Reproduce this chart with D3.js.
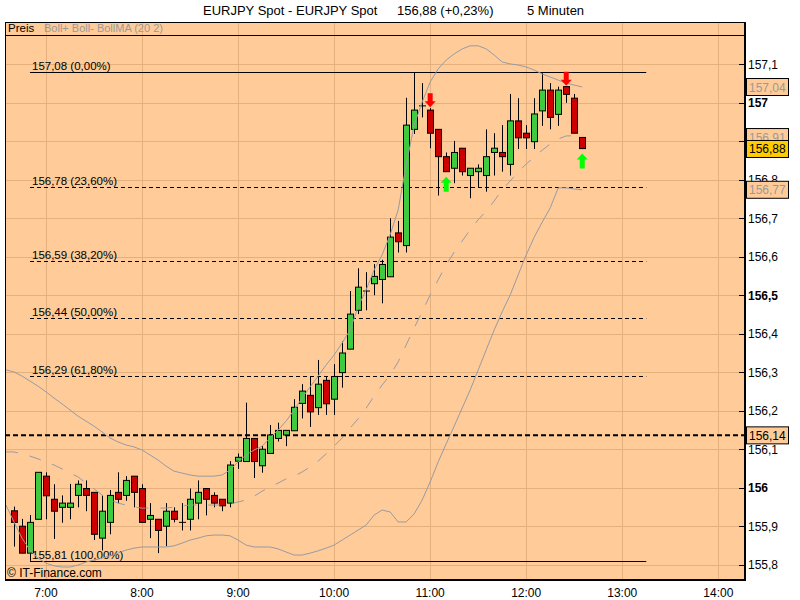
<!DOCTYPE html>
<html><head><meta charset="utf-8">
<script src="https://cdn.jsdelivr.net/npm/d3@7/dist/d3.min.js"></script>
<style>
body{margin:0;background:#fff;}
svg{display:block;font-family:"Liberation Sans",Arial,sans-serif;}
</style>
</head><body>
<svg id="chart" width="800" height="600"></svg>
<script>
// ---------------- DATA ----------------
const times = ["06:40","06:45","06:50","06:55","07:00","07:05","07:10","07:15","07:20","07:25","07:30","07:35",
"07:40","07:45","07:50","07:55","08:00","08:05","08:10","08:15","08:20","08:25","08:30","08:35",
"08:40","08:45","08:50","08:55","09:00","09:05","09:10","09:15","09:20","09:25","09:30","09:35",
"09:40","09:45","09:50","09:55","10:00","10:05","10:10","10:15","10:20","10:25","10:30","10:35",
"10:40","10:45","10:50","10:55","11:00","11:05","11:10","11:15","11:20","11:25","11:30","11:35",
"11:40","11:45","11:50","11:55","12:00","12:05","12:10","12:15","12:20","12:25","12:30","12:35"];
const open = [155.940,155.900,155.830,155.918,156.030,155.970,155.949,155.949,155.980,155.998,155.988,155.869,
155.910,155.988,155.980,156.030,155.998,155.918,155.918,155.900,155.939,155.910,155.918,155.960,
155.998,155.980,155.970,155.960,156.069,156.068,156.128,156.057,156.089,156.128,156.137,156.148,
156.219,156.240,156.208,156.279,156.230,156.299,156.360,156.461,156.511,156.530,156.541,156.548,
156.662,156.629,156.931,156.992,156.981,156.931,156.860,156.830,156.882,156.811,156.821,156.811,
156.871,156.871,156.840,156.953,156.921,156.899,156.979,157.033,156.970,157.042,157.012,156.910];
const high = [155.951,155.919,155.929,156.040,156.040,156.009,155.980,156.010,156.019,156.019,155.988,155.980,
155.994,156.040,156.030,156.030,156.009,155.960,155.918,155.960,155.949,155.960,155.998,156.019,
155.998,155.988,155.970,156.069,156.089,156.221,156.128,156.108,156.163,156.169,156.149,156.230,
156.269,156.290,156.332,156.290,156.321,156.380,156.511,156.570,156.560,156.581,156.592,156.700,
156.693,157.013,157.080,157.051,156.986,156.931,156.871,156.901,156.882,156.830,156.840,156.931,
156.921,156.942,157.023,157.012,156.942,157.012,157.080,157.051,157.042,157.042,157.023,156.910];
const low = [155.847,155.830,155.810,155.918,155.918,155.867,155.909,155.918,155.949,155.939,155.864,155.837,
155.879,155.960,155.966,155.949,155.910,155.869,155.830,155.848,155.910,155.889,155.889,155.918,
155.928,155.949,155.939,155.949,156.049,156.068,156.025,156.039,156.089,156.120,156.108,156.148,
156.180,156.158,156.189,156.189,156.189,156.260,156.360,156.451,156.461,156.500,156.479,156.548,
156.611,156.611,156.919,156.962,156.882,156.759,156.821,156.791,156.811,156.752,156.780,156.769,
156.811,156.821,156.811,156.880,156.880,156.880,156.940,156.931,156.940,157.000,156.921,156.881];
const close = [155.910,155.830,155.910,156.040,155.979,155.939,155.960,155.960,156.009,155.980,155.879,155.939,
155.980,155.970,156.019,155.988,155.910,155.928,155.889,155.939,155.918,155.910,155.970,155.988,
155.970,155.960,155.953,156.059,156.079,156.128,156.068,156.100,156.137,156.149,156.149,156.209,
156.251,156.197,156.269,156.218,156.289,156.350,156.451,156.521,156.511,156.549,156.580,156.651,
156.639,156.942,156.981,156.992,156.921,156.860,156.821,156.871,156.821,156.830,156.830,156.860,
156.882,156.860,156.953,156.909,156.909,156.971,157.033,156.962,157.033,157.022,156.921,156.881];

// Bollinger bands (20, 2) – one extra leading point at 06:35
const bandTimes = ["06:35"].concat(times);
const bollUpper = [156.306,156.301,156.290,156.277,156.264,156.249,156.233,156.218,156.202,156.186,
156.173,156.160,156.145,156.129,156.119,156.111,156.106,156.098,156.085,156.072,
156.056,156.043,156.038,156.033,156.030,156.030,156.030,156.033,156.046,156.067,
156.085,156.098,156.108,156.129,156.150,156.173,156.202,156.233,156.262,156.290,
156.319,156.345,156.376,156.410,156.470,156.514,156.566,156.605,156.657,156.722,
156.838,156.942,157.002,157.054,157.088,157.111,157.127,157.140,157.148,157.148,
157.140,157.124,157.106,157.101,157.098,157.093,157.085,157.075,157.067,157.059,
157.051,157.046,157.041];
const bollMid = [156.093,156.093,156.088,156.082,156.075,156.067,156.059,156.049,156.038,156.028,
156.012,155.997,155.981,155.968,155.960,155.955,155.950,155.947,155.947,155.947,
155.947,155.950,155.953,155.955,155.955,155.955,155.955,155.955,155.958,155.963,
155.968,155.978,155.991,156.002,156.012,156.023,156.030,156.041,156.054,156.069,
156.088,156.108,156.129,156.155,156.179,156.207,156.238,156.267,156.293,156.327,
156.371,156.415,156.457,156.501,156.540,156.579,156.612,156.641,156.670,156.696,
156.719,156.745,156.774,156.797,156.820,156.841,156.859,156.877,156.893,156.906,
156.914,156.914,156.911];
const bollLower = [155.955,155.911,155.869,155.838,155.817,155.804,155.797,155.794,155.794,155.799,
155.807,155.812,155.817,155.823,155.830,155.838,155.843,155.846,155.846,155.846,
155.846,155.849,155.856,155.864,155.869,155.875,155.877,155.877,155.875,155.864,
155.851,155.846,155.846,155.846,155.841,155.833,155.825,155.825,155.830,155.836,
155.843,155.851,155.864,155.877,155.890,155.903,155.929,155.942,155.937,155.911,
155.911,155.932,155.968,156.015,156.067,156.114,156.160,156.207,156.254,156.306,
156.358,156.410,156.457,156.501,156.553,156.605,156.651,156.690,156.727,156.779,
156.779,156.776,156.774];

// Fibonacci retracement
const fibLevels = [157.08, 156.78, 156.59, 156.44, 156.29, 155.81];
const fibPercents = ["0,00%", "23,60%", "38,20%", "50,00%", "61,80%", "100,00%"];
const fibStart = "06:50", fibEnd = "13:15";

// signals
const sellSignals = ["11:00", "12:25"];
const buySignals = ["11:10", "12:35"];

const lastPrice = 156.88;
const markLevel = 156.136;
const yTicks = [155.8,155.9,156.0,156.1,156.2,156.3,156.4,156.5,156.6,156.7,156.8,156.9,157.0,157.1];
const xTicks = ["07:00","08:00","09:00","10:00","11:00","12:00","13:00","14:00"];
const xTickLabels = ["7:00","8:00","9:00","10:00","11:00","12:00","13:00","14:00"];

// ---------------- CHART ----------------
const svg = d3.select("#chart");
const L = 5, R = 745, T = 22, B = 580, LEG = 35;
const toMin = s => { const p = s.split(":").map(Number); return p[0]*60 + p[1]; };
const x = d3.scaleLinear().domain([420, 840]).range([46, 718.3]);
const y = d3.scaleLinear().domain([155.8, 157.1]).range([564.7, 64.3]);
const loc = d3.formatLocale({decimal: ",", thousands: ".", grouping: [3], currency: ["", ""]});
const f2 = loc.format(".2f"), f1 = loc.format(".1~f");
const PEACH = "#FFCC99", GRID = "#E3B07E", BAND = "#979ba3";

svg.append("defs").append("clipPath").attr("id", "clip")
  .append("rect").attr("x", L).attr("y", LEG).attr("width", R - L).attr("height", B - LEG);

// title
const title = svg.append("g").attr("font-size", 13).attr("fill", "#000");
title.append("text").attr("x", 203).attr("y", 15).text("EURJPY Spot - EURJPY Spot");
title.append("text").attr("x", 397).attr("y", 15).text(f2(lastPrice) + " (+0,23%)");
title.append("text").attr("x", 527).attr("y", 15).text("5 Minuten");

// plot background
svg.append("rect").attr("x", L).attr("y", T).attr("width", R - L).attr("height", B - T).attr("fill", PEACH);

// grid
const grid = svg.append("g").attr("stroke", GRID).attr("stroke-width", 1);
grid.selectAll("line.v").data(xTicks).join("line")
  .attr("x1", d => Math.round(x(toMin(d))) + 0.5).attr("x2", d => Math.round(x(toMin(d))) + 0.5)
  .attr("y1", T).attr("y2", B);
grid.selectAll("line.h").data(yTicks).join("line")
  .attr("x1", L).attr("x2", R)
  .attr("y1", d => Math.round(y(d)) + 0.5).attr("y2", d => Math.round(y(d)) + 0.5);

const plot = svg.append("g").attr("clip-path", "url(#clip)");

// fib lines
const fx1 = x(toMin(fibStart)), fx2 = x(toMin(fibEnd));
fibLevels.forEach((v, i) => {
  const yy = Math.round(y(v)) + 0.5;
  const solid = (i === 0 || i === fibLevels.length - 1);
  plot.append("line").attr("x1", fx1).attr("x2", fx2).attr("y1", yy).attr("y2", yy)
    .attr("stroke", "#000").attr("stroke-width", 1)
    .attr("stroke-dasharray", solid ? null : "4,3");
  plot.append("text").attr("x", fx1 + 2).attr("y", yy - 3).attr("font-size", 11.5)
    .text(f2(v) + " (" + fibPercents[i] + ")");
});

// thick dashed horizontal level
plot.append("line").attr("x1", L).attr("x2", R)
  .attr("y1", y(markLevel)).attr("y2", y(markLevel))
  .attr("stroke", "#000").attr("stroke-width", 2).attr("stroke-dasharray", "5,3");

// candles
const cw = 6;
const cg = plot.append("g");
times.forEach((t, i) => {
  const cx = Math.round(x(toMin(t))) + 0.5;
  cg.append("line").attr("x1", cx).attr("x2", cx)
    .attr("y1", y(high[i])).attr("y2", y(low[i]))
    .attr("stroke", "#000").attr("stroke-width", 1);
  const up = close[i] >= open[i];
  const top = y(Math.max(open[i], close[i])), bot = y(Math.min(open[i], close[i]));
  cg.append("rect").attr("x", cx - cw / 2).attr("y", top)
    .attr("width", cw).attr("height", Math.max(0.01, bot - top))
    .attr("fill", up ? "#3FCB3F" : "#CC0000").attr("stroke", "#000").attr("stroke-width", 1);
});

// bollinger bands
const line = arr => d3.line().x((d, i) => x(toMin(bandTimes[i]))).y(d => y(d))(arr);
plot.append("path").attr("d", line(bollUpper)).attr("fill", "none").attr("stroke", BAND).attr("stroke-width", 1);
plot.append("path").attr("d", line(bollLower)).attr("fill", "none").attr("stroke", BAND).attr("stroke-width", 1);
plot.append("path").attr("d", line(bollMid)).attr("fill", "none").attr("stroke", BAND).attr("stroke-width", 1)
  .attr("stroke-dasharray", "12,12");

// signal arrows
const idx = t => times.indexOf(t);
sellSignals.forEach(t => {
  const i = idx(t), cx = x(toMin(t)), tip = y(high[i]) - 1;
  plot.append("path").attr("transform", `translate(${cx},${tip})`)
    .attr("d", "M0,0 L-5.5,-6 L-2.5,-6 L-2.5,-14 L2.5,-14 L2.5,-6 L5.5,-6 Z").attr("fill", "#FF0000");
});
buySignals.forEach(t => {
  const i = idx(t), cx = x(toMin(t)), tip = y(low[i]) + 5;
  plot.append("path").attr("transform", `translate(${cx},${tip})`)
    .attr("d", "M0,0 L-5.5,6 L-2.5,6 L-2.5,15 L2.5,15 L2.5,6 L5.5,6 Z").attr("fill", "#00FF00");
});

// legend band
svg.append("line").attr("x1", L).attr("x2", R).attr("y1", LEG + 0.5).attr("y2", LEG + 0.5).attr("stroke", "#000");
svg.append("text").attr("x", 8).attr("y", 32).attr("font-size", 11.5).text("Preis");
svg.append("text").attr("x", 44).attr("y", 32).attr("font-size", 11).attr("fill", "#9a9a9a").text("Boll+ Boll- BollMA (20 2)");

// copyright
svg.append("text").attr("x", 7).attr("y", 577).attr("font-size", 12).text("\u00A9 IT-Finance.com");

// frame
svg.append("line").attr("x1", L + 0.5).attr("x2", L + 0.5).attr("y1", T).attr("y2", B).attr("stroke", "#000");
svg.append("line").attr("x1", L).attr("x2", R).attr("y1", T + 0.5).attr("y2", T + 0.5).attr("stroke", "#000");
svg.append("line").attr("x1", L).attr("x2", R + 1).attr("y1", B).attr("y2", B).attr("stroke", "#000").attr("stroke-width", 2);
svg.append("line").attr("x1", R).attr("x2", R).attr("y1", T).attr("y2", B + 1).attr("stroke", "#000").attr("stroke-width", 2);

// right axis
const ax = svg.append("g");
ax.selectAll("line").data(yTicks).join("line")
  .attr("x1", R - 6).attr("x2", R).attr("y1", d => Math.round(y(d)) + 0.5).attr("y2", d => Math.round(y(d)) + 0.5)
  .attr("stroke", "#000");
ax.selectAll("text").data(yTicks).join("text")
  .attr("x", R + 3).attr("y", d => y(d) + 4.5).attr("font-size", 12)
  .attr("font-weight", d => (Math.abs(d * 2 - Math.round(d * 2)) < 1e-6) ? "bold" : "normal")
  .text(d => f1(d));

// bottom axis labels
svg.selectAll("text.xl").data(xTicks).join("text").attr("class", "xl")
  .attr("x", d => x(toMin(d))).attr("y", 597).attr("text-anchor", "middle").attr("font-size", 12)
  .text((d, i) => xTickLabels[i]);

// value boxes on the right
const boxes = [
  {v: bollUpper[bollUpper.length - 1], fill: PEACH, color: "#9a9a9a"},
  {v: bollMid[bollMid.length - 1], fill: PEACH, color: "#9a9a9a"},
  {v: lastPrice, fill: "#FFCC00", color: "#000"},
  {v: bollLower[bollLower.length - 1], fill: PEACH, color: "#9a9a9a"},
  {v: markLevel, fill: PEACH, color: "#000"}
];
boxes.forEach(b => {
  const yy = y(b.v);
  svg.append("rect").attr("x", R + 1.5).attr("y", yy - 8.5).attr("width", 42).attr("height", 17)
    .attr("fill", b.fill).attr("stroke", "#000");
  svg.append("text").attr("x", R + 4).attr("y", yy + 4.5).attr("font-size", 12).attr("fill", b.color).text(f2(b.v));
});
</script>
</body></html>
